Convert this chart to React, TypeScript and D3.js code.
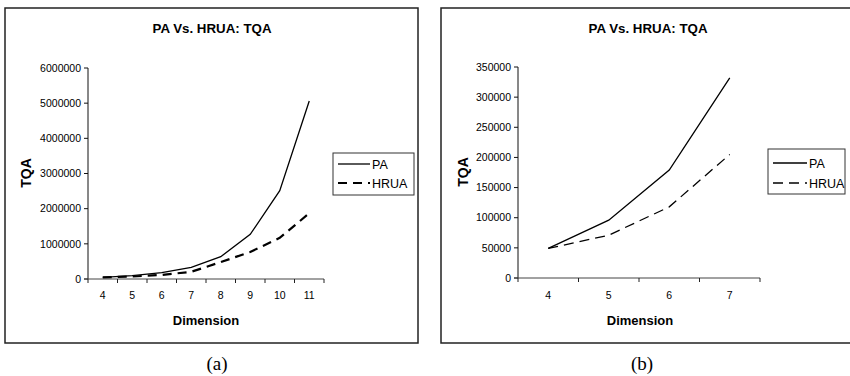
import React from "react";
import * as d3 from "d3";

const dimsA = ["4", "5", "6", "7", "8", "9", "10", "11"];
const paA = [49000, 96000, 180000, 333000, 634000, 1270000, 2510000, 5060000];
const hruaA = [49000, 71000, 117000, 205000, 480000, 770000, 1170000, 1870000];
const yTicksA = [0, 1000000, 2000000, 3000000, 4000000, 5000000, 6000000];

const dimsB = ["4", "5", "6", "7"];
const paB = [49000, 96000, 179000, 332000];
const hruaB = [49000, 71000, 118000, 205000];
const yTicksB = [0, 50000, 100000, 150000, 200000, 250000, 300000, 350000];

const seriesNames = ["PA", "HRUA"];

const SANS = "'Liberation Sans', Arial, sans-serif";
const SERIF = "'Liberation Serif', 'Times New Roman', serif";

type PanelProps = {
  dims: string[];
  pa: number[];
  hrua: number[];
  yTicks: number[];
  box: [number, number, number, number];
  plot: { x0: number; x1: number; yTop: number; y0: number };
  titleX: number;
  dimX: number;
  tqaX: number;
  tqaY: number;
  legend: { x0: number; x1: number; y0: number; y1: number; lx0: number; lx1: number; ya: number; yb: number };
  caption: string;
  captionX: number;
  dashW: number;
  dash: string;
  showRight: boolean;
};

function Panel(p: PanelProps) {
  const yMax = p.yTicks[p.yTicks.length - 1];
  const x = d3.scaleBand<string>().domain(p.dims).range([p.plot.x0, p.plot.x1]).padding(0);
  const y = d3.scaleLinear().domain([0, yMax]).range([p.plot.y0, p.plot.yTop]);
  const cx = (d: string) => (x(d) as number) + x.bandwidth() / 2;
  const line = d3
    .line<number>()
    .x((_, i) => cx(p.dims[i]))
    .y((v) => y(v));
  const boundaries = d3.range(p.dims.length + 1).map((i) => p.plot.x0 + i * x.bandwidth());
  const [bx0, by0, bx1, by1] = p.box;
  const L = p.legend;
  return (
    <g>
      {p.showRight ? (
        <rect x={bx0} y={by0} width={bx1 - bx0} height={by1 - by0} fill="white" stroke="#222" strokeWidth={1.5} />
      ) : (
        <path d={`M${bx1},${by0} H${bx0} V${by1} H${bx1}`} fill="none" stroke="#222" strokeWidth={1.5} />
      )}
      <text
        x={p.titleX}
        y={33}
        textAnchor="middle"
        fontFamily={SANS}
        fontWeight="bold"
        fontSize={13.5}
        textLength={119}
        lengthAdjust="spacingAndGlyphs"
      >
        PA Vs. HRUA: TQA
      </text>
      {/* y axis */}
      <line x1={p.plot.x0} x2={p.plot.x0} y1={p.plot.yTop} y2={p.plot.y0} stroke="#111" strokeWidth={1} />
      {p.yTicks.map((t) => (
        <g key={t}>
          <line x1={p.plot.x0 - 4} x2={p.plot.x0} y1={y(t)} y2={y(t)} stroke="#111" strokeWidth={1} />
          <text x={p.plot.x0 - 7} y={y(t)} dy="0.36em" textAnchor="end" fontFamily={SANS} fontSize={10.5}>
            {t}
          </text>
        </g>
      ))}
      {/* x axis */}
      <line x1={p.plot.x0 - 4} x2={p.plot.x1} y1={p.plot.y0} y2={p.plot.y0} stroke="#444" strokeWidth={1} />
      {boundaries.map((bx, i) => (
        <line key={i} x1={bx} x2={bx} y1={p.plot.y0} y2={p.plot.y0 + 4} stroke="#222" strokeWidth={1} />
      ))}
      {p.dims.map((d) => (
        <text key={d} x={cx(d)} y={299} textAnchor="middle" fontFamily={SANS} fontSize={10.5}>
          {d}
        </text>
      ))}
      <text x={p.dimX} y={325} textAnchor="middle" fontFamily={SANS} fontWeight="bold" fontSize={13}>
        Dimension
      </text>
      <text
        transform={`translate(${p.tqaX},${p.tqaY}) rotate(-90)`}
        textAnchor="middle"
        fontFamily={SANS}
        fontWeight="bold"
        fontSize={14}
      >
        TQA
      </text>
      {/* series */}
      <path d={line(p.pa) || ""} fill="none" stroke="#000" strokeWidth={1.3} />
      <path d={line(p.hrua) || ""} fill="none" stroke="#000" strokeWidth={p.dashW} strokeDasharray={p.dash} />
      {/* legend */}
      <rect x={L.x0} y={L.y0} width={L.x1 - L.x0} height={L.y1 - L.y0} fill="white" stroke="#333" strokeWidth={1} />
      <line x1={L.lx0} x2={L.lx1} y1={L.ya} y2={L.ya} stroke="#000" strokeWidth={1.3} />
      <line x1={L.lx0} x2={L.lx1} y1={L.yb} y2={L.yb} stroke="#000" strokeWidth={p.dashW} strokeDasharray={p.dash} />
      <text x={L.lx1 + 2} y={L.ya} dy="0.36em" fontFamily={SANS} fontSize={12.5}>
        {seriesNames[0]}
      </text>
      <text x={L.lx1 + 2} y={L.yb} dy="0.36em" fontFamily={SANS} fontSize={12.5}>
        {seriesNames[1]}
      </text>
      <text x={p.captionX} y={370} textAnchor="middle" fontFamily={SERIF} fontSize={19}>
        {p.caption}
      </text>
    </g>
  );
}

export default function App() {
  return (
    <svg
      width={850}
      height={376}
      style={{ position: "absolute", left: 0, top: 0, background: "white" }}
    >
      <rect x={0} y={0} width={850} height={376} fill="white" />
      <Panel
        dims={dimsA}
        pa={paA}
        hrua={hruaA}
        yTicks={yTicksA}
        box={[5, 8, 418, 343]}
        plot={{ x0: 88, x1: 324, yTop: 68, y0: 279 }}
        titleX={212}
        dimX={206}
        tqaX={31}
        tqaY={173}
        legend={{ x0: 333, x1: 414, y0: 153, y1: 195, lx0: 338, lx1: 370, ya: 164, yb: 183 }}
        caption="(a)"
        captionX={217}
        dashW={2.2}
        dash="9,6"
        showRight={true}
      />
      <Panel
        dims={dimsB}
        pa={paB}
        hrua={hruaB}
        yTicks={yTicksB}
        box={[441, 8, 852, 343]}
        plot={{ x0: 518, x1: 760, yTop: 67, y0: 278 }}
        titleX={648}
        dimX={640}
        tqaX={468}
        tqaY={172}
        legend={{ x0: 768, x1: 845, y0: 149, y1: 194, lx0: 773, lx1: 807, ya: 163, yb: 183 }}
        caption="(b)"
        captionX={642}
        dashW={1.3}
        dash="10,6"
        showRight={false}
      />
    </svg>
  );
}
